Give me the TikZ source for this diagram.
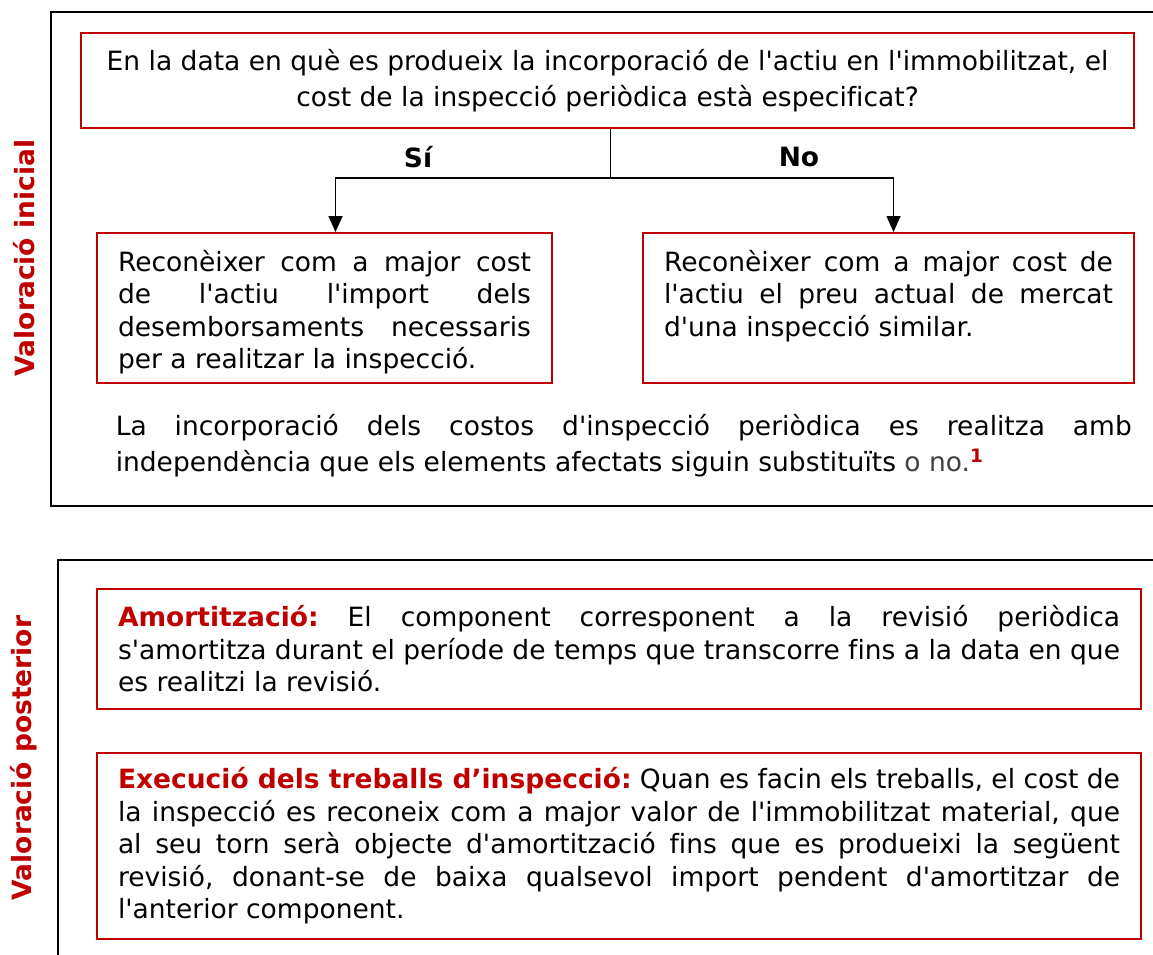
\documentclass[tikz,border=0pt]{standalone}
\usepackage{fontspec}
\setmainfont{DejaVu Sans}[Ligatures={TeXOff,CommonOff}]
\usetikzlibrary{positioning,arrows.meta}
\definecolor{vermell}{HTML}{C00000}
\tikzset{
  caixa/.style={draw=vermell,line width=2pt,inner xsep=21pt,inner ysep=0pt,anchor=north west,font=\fontsize{26.5}{32.5}\selectfont},
  marc/.style={line width=2.8pt},
  titol/.style={rotate=90,text=vermell,font=\bfseries\fontsize{26.5}{30}\selectfont},
  branca/.style={font=\bfseries\fontsize{26.5}{30}\selectfont}
}
\hyphenpenalty=10000 \exhyphenpenalty=10000 \frenchspacing
\begin{document}
\begin{tikzpicture}[x=1pt,y=-1pt,line width=1.5pt,>={Triangle[width=14pt,length=16pt]}]
	\useasboundingbox (0,0) rectangle (1153,955);
	\clip (0,0) rectangle (1153,955);
	\draw[marc] (1160,12) -| (51,506) -- (1160,506);
	\draw[marc] (1160,560) -| (58,970);
	\node[titol] (inicial) at (24,258) {Valoració inicial};
	\node[titol] (posterior) at (24,758) {Valoració posterior};
	\node[caixa,minimum width=1053pt,minimum height=95pt,align=center,font=\fontsize{26.5}{36}\selectfont] (pregunta) at (80,32) {En la data en què es produeix la incorporació de l'actiu en l'immobilitzat, el\\cost de la inspecció periòdica està especificat?};
	\node[caixa,inner ysep=17pt] (esquerra) at (96,232) {\parbox[c][116pt][t]{413pt}{\hyphenpenalty=10000 \frenchspacing Reconèixer com a major cost\linebreak de l'actiu l'import dels\linebreak desemborsaments necessaris\linebreak per a realitzar la inspecció.}};
	\node[caixa,inner ysep=17pt] (dreta) at (642,232) {\parbox[c][116pt][t]{449pt}{\hyphenpenalty=10000 \frenchspacing Reconèixer com a major cost de l'actiu el preu actual de mercat d'una inspecció similar.}};
	\draw ([xshift=3pt]pregunta.south) -- ++(0,49) coordinate (bif);
	\draw[->] (bif) -| ([xshift=11pt]esquerra.north);
	\draw[->] (bif) -| ([xshift=5pt]dreta.north);
	\node[branca] (si) at (418,157) {Sí};
	\node[branca] (no) at (799,157) {No};
	\node[anchor=north west,inner sep=0pt,font=\fontsize{26.5}{36}\selectfont] (nota) at (115,414) {\parbox{1016pt}{\hyphenpenalty=10000 \frenchspacing La incorporació dels costos d'inspecció periòdica es realitza amb independència que els elements afectats siguin substituïts \textcolor{black!75}{o no.}\textsuperscript{\textcolor{vermell}{\bfseries 1}}}};
	\node[caixa,minimum width=1044pt,minimum height=120pt] (amort) at (96,588) {\parbox{1002pt}{\hyphenpenalty=10000 \frenchspacing \textcolor{vermell}{\bfseries Amortització:} El component corresponent a la revisió periòdica\linebreak s'amortitza durant el període de temps que transcorre fins a la data en que\linebreak es realitzi la revisió.}};
	\node[caixa,minimum width=1044pt,minimum height=186pt] (exec) at (96,752) {\parbox{1002pt}{\hyphenpenalty=10000 \frenchspacing \textcolor{vermell}{\bfseries Execució dels treballs d’inspecció:} Quan es facin els treballs, el cost de\linebreak la inspecció es reconeix com a major valor de l'immobilitzat material, que\linebreak al seu torn serà objecte d'amortització fins que es produeixi la següent\linebreak revisió, donant-se de baixa qualsevol import pendent d'amortitzar de\linebreak l'anterior component.}};
\end{tikzpicture}
\end{document}
